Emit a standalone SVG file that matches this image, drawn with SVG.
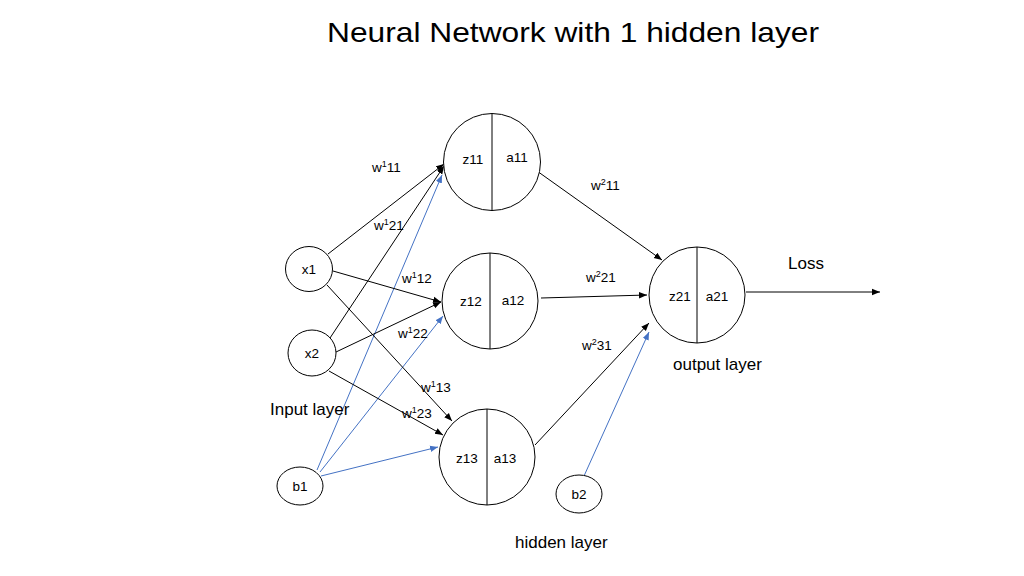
<svg xmlns="http://www.w3.org/2000/svg" width="1024" height="576" viewBox="0 0 1024 576">
<style>
.n{fill:#fff;stroke:#000;stroke-width:1}
.d{stroke:#000;stroke-width:1}
.t{font-family:"Liberation Sans",Arial,sans-serif;font-size:13.5px;fill:#000}
.l{font-family:"Liberation Sans",Arial,sans-serif;font-size:17px;fill:#000}
.c{stroke:#000;stroke-width:1;fill:none}
.cb{stroke:#4472C4;stroke-width:1;fill:none}
.s{font-size:9px}
</style>
<defs>
<marker id="ak" viewBox="0 0 10 10" refX="10" refY="5" markerWidth="8" markerHeight="8" markerUnits="userSpaceOnUse" orient="auto"><path d="M0,1 L10,5 L0,9 z" fill="#000"/></marker>
<marker id="ab" viewBox="0 0 10 10" refX="10" refY="5" markerWidth="8" markerHeight="8" markerUnits="userSpaceOnUse" orient="auto"><path d="M0,1 L10,5 L0,9 z" fill="#4472C4"/></marker>
</defs>
<rect width="1024" height="576" fill="#fff"/>
<text x="573" y="42" text-anchor="middle" font-family="Liberation Sans,Arial,sans-serif" font-size="28" textLength="492" lengthAdjust="spacingAndGlyphs">Neural Network with 1 hidden layer</text>

<g id="connectors">
<line class="c" x1="328" y1="254" x2="444" y2="164" marker-end="url(#ak)"/>
<line class="c" x1="330" y1="338" x2="444" y2="166" marker-end="url(#ak)"/>
<line class="cb" x1="317" y1="470" x2="442" y2="175" marker-end="url(#ab)"/>
<line class="c" x1="333" y1="271" x2="441" y2="302" marker-end="url(#ak)"/>
<line class="c" x1="336" y1="352" x2="441" y2="302" marker-end="url(#ak)"/>
<line class="cb" x1="320" y1="472" x2="443" y2="316" marker-end="url(#ab)"/>
<line class="c" x1="327" y1="285" x2="452" y2="421" marker-end="url(#ak)"/>
<line class="c" x1="329" y1="371" x2="443" y2="435" marker-end="url(#ak)"/>
<line class="cb" x1="321" y1="476" x2="438" y2="447" marker-end="url(#ab)"/>
<line class="c" x1="537" y1="171" x2="662" y2="260" marker-end="url(#ak)"/>
<line class="c" x1="541" y1="298" x2="647" y2="295" marker-end="url(#ak)"/>
<line class="c" x1="535" y1="445" x2="649" y2="323" marker-end="url(#ak)"/>
<line class="cb" x1="584" y1="476" x2="649" y2="332" marker-end="url(#ab)"/>
<line class="c" x1="746" y1="292" x2="880" y2="292" marker-end="url(#ak)"/>
<text class="t" x="372" y="172">w<tspan class="s" dy="-5">1</tspan><tspan dy="5">11</tspan></text>
<text class="t" x="374" y="230">w<tspan class="s" dy="-5">1</tspan><tspan dy="5">21</tspan></text>
<text class="t" x="402" y="283">w<tspan class="s" dy="-5">1</tspan><tspan dy="5">12</tspan></text>
<text class="t" x="398" y="338">w<tspan class="s" dy="-5">1</tspan><tspan dy="5">22</tspan></text>
<text class="t" x="421" y="392">w<tspan class="s" dy="-5">1</tspan><tspan dy="5">13</tspan></text>
<text class="t" x="402" y="418">w<tspan class="s" dy="-5">1</tspan><tspan dy="5">23</tspan></text>
<text class="t" x="591" y="190">w<tspan class="s" dy="-5">2</tspan><tspan dy="5">11</tspan></text>
<text class="t" x="586" y="282">w<tspan class="s" dy="-5">2</tspan><tspan dy="5">21</tspan></text>
<text class="t" x="582" y="350">w<tspan class="s" dy="-5">2</tspan><tspan dy="5">31</tspan></text>
<text class="l" x="788" y="269">Loss</text>
</g>

<g id="x1"><ellipse class="n" cx="309" cy="269" rx="23.5" ry="22.5"/><text class="t" x="309" y="274" text-anchor="middle">x1</text></g>
<g id="x2"><ellipse class="n" cx="312" cy="353" rx="24" ry="23"/><text class="t" x="312" y="358" text-anchor="middle">x2</text></g>
<g id="b1"><ellipse class="n" cx="300" cy="486" rx="23" ry="19"/><text class="t" x="300" y="491" text-anchor="middle">b1</text></g>
<g id="b2"><ellipse class="n" cx="579" cy="494" rx="23" ry="19"/><text class="t" x="579" y="499" text-anchor="middle">b2</text></g>

<g id="h1"><circle class="n" cx="492" cy="162" r="48.5"/><line class="d" x1="492" y1="114" x2="492" y2="211"/><text class="t" x="473" y="164" text-anchor="middle">z11</text><text class="t" x="517" y="162" text-anchor="middle">a11</text></g>
<g id="h2"><circle class="n" cx="490" cy="301" r="48"/><line class="d" x1="490" y1="253" x2="490" y2="349"/><text class="t" x="471" y="306" text-anchor="middle">z12</text><text class="t" x="513" y="305" text-anchor="middle">a12</text></g>
<g id="h3"><circle class="n" cx="487" cy="457" r="48"/><line class="d" x1="487" y1="409" x2="487" y2="505"/><text class="t" x="467" y="463" text-anchor="middle">z13</text><text class="t" x="505" y="463" text-anchor="middle">a13</text></g>
<g id="out"><circle class="n" cx="697" cy="295" r="48"/><line class="d" x1="697" y1="247" x2="697" y2="343"/><text class="t" x="680" y="301" text-anchor="middle">z21</text><text class="t" x="717" y="301" text-anchor="middle">a21</text></g>

<text class="l" x="270" y="415">Input layer</text>
<text class="l" x="673" y="370">output layer</text>
<text class="l" x="515" y="548">hidden layer</text>
</svg>
